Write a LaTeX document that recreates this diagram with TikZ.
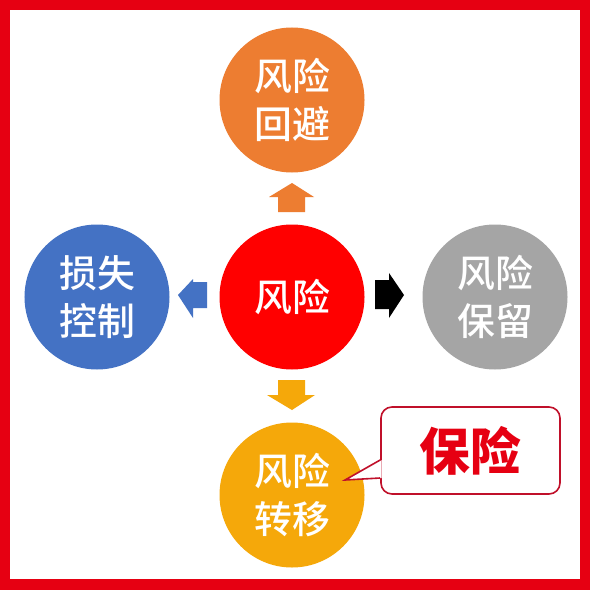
\documentclass[tikz,border=0pt]{standalone}
\usepackage{fontspec}
\newfontfamily\cjk{Noto Sans CJK SC}
\newfontfamily\cjkmed{Noto Sans CJK SC Medium}
\definecolor{frame}{HTML}{E60012}
\definecolor{corange}{HTML}{ED7D31}
\definecolor{cblue}{HTML}{4472C4}
\definecolor{cred}{HTML}{FF0000}
\definecolor{cgray}{HTML}{A5A5A5}
\definecolor{cgold}{HTML}{F5A80A}
\definecolor{calloutline}{HTML}{C0102A}
\begin{document}
\begin{tikzpicture}[x=1bp,y=-1bp,
  disc/.style={circle,minimum size=145bp,inner sep=0pt,text=white,align=center,
    font=\cjkmed\fontsize{38}{48}\selectfont}]
\useasboundingbox (0,0) rectangle (590,590);
\fill[frame] (0,0) rectangle (590,590);
\fill[white] (10,10.5) rectangle (579.5,579);
% circles
\node[disc,fill=corange] (top) at (292,100) {风险\\回避};
\node[disc,fill=cblue] (left) at (97,297) {损失\\控制};
\node[disc,fill=cred] (mid) at (292,297) {风险};
\node[disc,fill=cgray] (right) at (495,297) {风险\\保留};
\node[disc,fill=cgold] (bot) at (292,495) {风险\\转移};
% block arrows
\fill[corange] (292,183) -- (314,197) -- (305,197) -- (305,212) -- (278,212) -- (278,197) -- (269,197) -- cycle;
\fill[cblue] (178,295) -- (193,279) -- (193,282) -- (207,282) -- (207,308) -- (193,308) -- (193,318) -- cycle;
\fill[black] (404,295) -- (389,273) -- (389,280) -- (375,280) -- (375,309) -- (389,309) -- (389,318) -- cycle;
\fill[cgold] (292,410) -- (315,395) -- (305,395) -- (305,380) -- (278,380) -- (278,395) -- (267,395) -- cycle;
% callout
\node[draw=calloutline,line width=1.6bp,fill=white,rounded corners=11bp,
  minimum width=179bp,minimum height=87bp,inner sep=0pt,
  text=frame,font=\cjk\bfseries\fontsize{51}{60}\selectfont] (call) at (470.5,450.5) {保险};
\coordinate (tip) at (345,480);
\fill[white] ([xshift=1.5bp]call.west |- 0,460) -- (tip) -- ([xshift=1.5bp]call.west |- 0,478) -- cycle;
\draw[calloutline,line width=1.6bp,line join=miter] (call.west |- 0,460) -- (tip) -- (call.west |- 0,478);
\end{tikzpicture}
\end{document}
